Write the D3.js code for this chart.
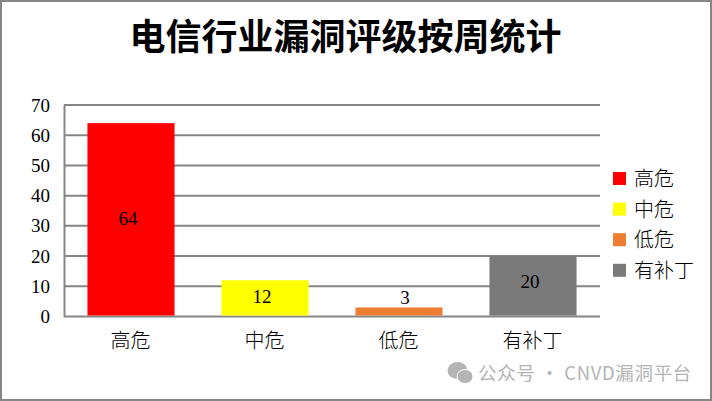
<!DOCTYPE html>
<html>
<head>
<meta charset="utf-8">
<script src="https://cdn.jsdelivr.net/npm/d3@7"></script>
<style>
  html, body { margin: 0; padding: 0; background: #fff; }
  svg { display: block; }
  text { fill: #000; }
  .num { font-family: "Liberation Serif", serif; font-size: 19px; }
  .cjk { font-family: "Noto Sans CJK SC", sans-serif; font-size: 20px; font-weight: 300; }
  .title { font-family: "Noto Sans CJK SC", sans-serif; font-size: 36px; font-weight: 700; }
  .mark { font-family: "Noto Sans CJK SC", "Noto Sans", sans-serif; font-size: 18.5px; letter-spacing: 0.65px; fill: #b4b4b4; }
</style>
</head>
<body>
<svg id="chart" width="712" height="401"></svg>
<script>
var categories = ["高危", "中危", "低危", "有补丁"];
var values = [64, 12, 3, 20];
var colors = ["#ff0000", "#ffff00", "#ed7d31", "#7a7a7a"];
var yTicks = [0, 10, 20, 30, 40, 50, 60, 70];
var titleText = "电信行业漏洞评级按周统计";
var watermark = "公众号 · CNVD漏洞平台";

var gray = "#868686";
var svg = d3.select("#chart");

// outer frame
svg.append("rect")
  .attr("x", 1).attr("y", 1)
  .attr("width", 710).attr("height", 399)
  .attr("fill", "#fff").attr("stroke", gray).attr("stroke-width", 2);

svg.append("text")
  .attr("class", "title")
  .attr("x", 345.5).attr("y", 50)
  .attr("text-anchor", "middle")
  .text(titleText);

var x = d3.scaleBand().domain(categories).range([64, 600]).paddingInner(0.35).paddingOuter(0.175);
var y = d3.scaleLinear().domain([0, 70]).range([316.5, 105]);

// gridlines
svg.append("g").selectAll("line")
  .data(yTicks)
  .enter().append("line")
  .attr("x1", 64).attr("x2", 600)
  .attr("y1", function(d) { return y(d); })
  .attr("y2", function(d) { return y(d); })
  .attr("stroke", gray).attr("stroke-width", 2);

// left axis
var yAxis = svg.append("g")
  .attr("transform", "translate(64,0)")
  .call(d3.axisLeft(y).tickValues(yTicks).tickSize(0).tickPadding(14));
yAxis.select(".domain").attr("stroke", gray).attr("stroke-width", 2);
yAxis.selectAll("text").attr("class", "num").attr("font-family", null).attr("font-size", null);
yAxis.attr("font-family", null).attr("font-size", null);

// bars
svg.append("g").selectAll("rect")
  .data(values)
  .enter().append("rect")
  .attr("x", function(d, i) { return x(categories[i]); })
  .attr("y", function(d) { return y(d); })
  .attr("width", x.bandwidth())
  .attr("height", function(d) { return y(0) - y(d) - 1; })
  .attr("fill", function(d, i) { return colors[i]; });

// value labels: centred in the bar, the short bar's sits above and right
svg.append("g").selectAll("text")
  .data(values)
  .enter().append("text")
  .attr("class", "num")
  .attr("text-anchor", "middle")
  .attr("x", function(d, i) {
    return x(categories[i]) + x.bandwidth() / 2 + (d < 5 ? 6 : -3);
  })
  .attr("y", function(d) {
    if (d < 5) return y(d) - 3;
    if (d == 20) return (y(d) + y(0)) / 2 + 2;
    return (y(d) + y(0)) / 2 + 5;
  })
  .text(function(d) { return d; });

// category labels
svg.append("g").selectAll("text")
  .data(categories)
  .enter().append("text")
  .attr("class", "cjk")
  .attr("text-anchor", "middle")
  .attr("x", function(d) { return x(d) + x.bandwidth() / 2 - 0.5; })
  .attr("y", 348)
  .text(function(d) { return d; });

// legend
var legend = svg.append("g").selectAll("g")
  .data(categories)
  .enter().append("g")
  .attr("transform", function(d, i) { return "translate(613," + (172 + i * 30.6) + ")"; });
legend.append("rect")
  .attr("width", 13).attr("height", 13)
  .attr("fill", function(d, i) { return colors[i]; });
legend.append("text")
  .attr("class", "cjk")
  .attr("x", 21).attr("y", 14)
  .text(function(d) { return d; });

// watermark
var icon = svg.append("g").attr("fill", "#b4b4b4");
icon.append("ellipse").attr("cx", 457.5).attr("cy", 370.5).attr("rx", 10).attr("ry", 8.5);
icon.append("ellipse").attr("cx", 465).attr("cy", 376.5).attr("rx", 8).attr("ry", 7).attr("stroke", "#fff").attr("stroke-width", 1);
svg.append("text")
  .attr("class", "mark")
  .attr("x", 478).attr("y", 380)
  .text(watermark);
</script>
</body>
</html>
